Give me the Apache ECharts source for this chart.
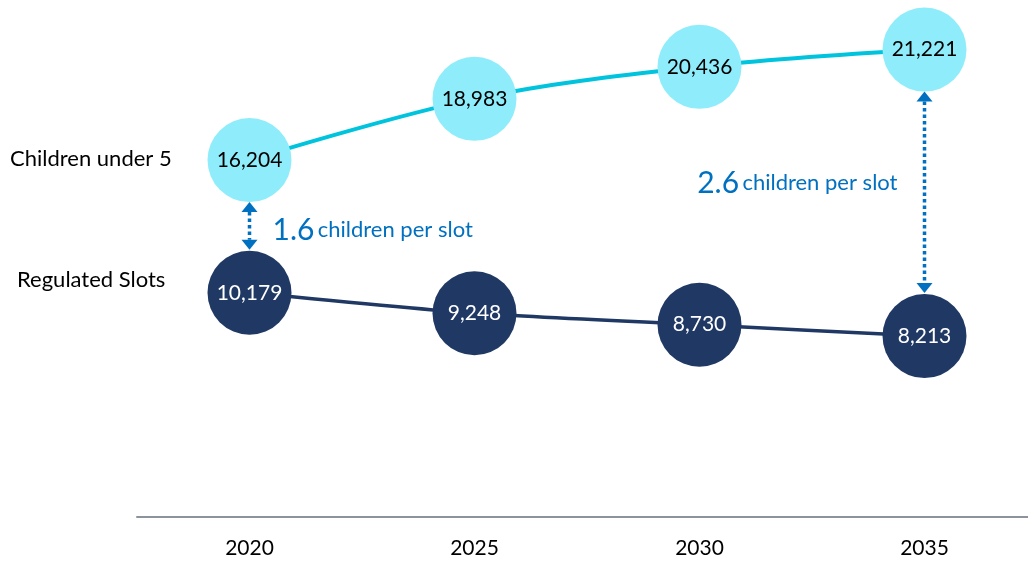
<!DOCTYPE html>
<html>
<head>
<meta charset="utf-8">
<script src="https://cdn.jsdelivr.net/npm/echarts@6/dist/echarts.min.js"></script>
<style>
  html, body { margin: 0; padding: 0; background: #ffffff; }
  #chart { width: 1028px; height: 565px; }
</style>
</head>
<body>
<div id="chart"></div>
<script>
// Child care capacity outlook
const years = ['2020', '2025', '2030', '2035'];
const childrenUnder5 = [16204, 18983, 20436, 21221];
const regulatedSlots = [10179, 9248, 8730, 8213];
// Years that get a "children per slot" callout
const ratioYears = ['2020', '2035'];

const FONT = 'Lato, "Open Sans", sans-serif';
const BUBBLE = 84;
const LIGHT = '#8FEDFB';
const LIGHT_LINE = '#00C3DD';
const DARK = '#203864';
const ACCENT = '#0070C0';

const fmt = v => v.toLocaleString('en-US');
// Points are placed at the year's index on a value axis, one band per year
const pairs = arr => arr.map((v, i) => [i, v]);

const ratioData = ratioYears.map(y => {
  const i = years.indexOf(y);
  return [i, childrenUnder5[i], regulatedSlots[i]];
});

const chart = echarts.init(document.getElementById('chart'), null, { renderer: 'canvas' });

function renderRatio(params, api) {
  const i = api.value(0);
  const top = api.coord([i, api.value(1)]);
  const bot = api.coord([i, api.value(2)]);
  const r = BUBBLE / 2;
  const x = top[0];
  const y1 = top[1] + r;
  const y2 = bot[1] - r - 1;
  const head = 10, half = 8;
  const ratio = (api.value(1) / api.value(2)).toFixed(1);
  const last = i === years.length - 1;
  const midY = (y1 + y2) / 2;
  return {
    type: 'group',
    children: [
      {
        type: 'line',
        shape: { x1: x, y1: y1 + head, x2: x, y2: y2 - head },
        style: { stroke: ACCENT, lineWidth: 3.5, lineDash: [3.5, 3] }
      },
      {
        type: 'polygon',
        shape: { points: [[x, y1], [x - half, y1 + head], [x + half, y1 + head]] },
        style: { fill: ACCENT }
      },
      {
        type: 'polygon',
        shape: { points: [[x, y2], [x - half, y2 - head], [x + half, y2 - head]] },
        style: { fill: ACCENT }
      },
      {
        type: 'text',
        x: last ? x - 27 : x + 23,
        y: last ? midY - 9 : midY + 4,
        style: {
          text: '{n|' + ratio + '} {t|children per slot}',
          align: last ? 'right' : 'left',
          verticalAlign: 'middle',
          rich: {
            n: { fontSize: 30, fontFamily: FONT, fill: ACCENT },
            t: { fontSize: 22, fontFamily: FONT, fill: ACCENT }
          }
        }
      }
    ]
  };
}

chart.setOption({
  animation: false,
  // Each year gets a 225px band; the last band runs past the right edge
  grid: { left: 137, top: 17, right: 0, height: 500 },
  xAxis: {
    type: 'value',
    min: -0.5,
    max: 3.46,
    interval: 0.5,
    axisLine: { show: true, onZero: false, lineStyle: { color: '#8C939D', width: 2 } },
    axisTick: { show: false },
    axisLabel: {
      margin: 21, fontSize: 21, fontFamily: FONT, color: '#000000',
      showMinLabel: true, showMaxLabel: false,
      formatter: v => Number.isInteger(v) && years[v] !== undefined ? years[v] : ''
    },
    splitLine: { show: false }
  },
  yAxis: {
    type: 'value',
    min: 0,
    max: 22700,
    show: false,
    splitLine: { show: false }
  },
  graphic: [
    {
      type: 'text', left: 10, top: 148,
      style: { text: 'Children under 5', fontSize: 22, fontFamily: FONT, fill: '#000000' }
    },
    {
      type: 'text', left: 17, top: 269,
      style: { text: 'Regulated Slots', fontSize: 22, fontFamily: FONT, fill: '#000000' }
    }
  ],
  series: [
    {
      name: 'Children under 5',
      type: 'line',
      data: pairs(childrenUnder5),
      smooth: 0.35,
      symbol: 'circle',
      symbolSize: BUBBLE,
      lineStyle: { color: LIGHT_LINE, width: 4 },
      itemStyle: { color: LIGHT, opacity: 1 },
      label: {
        show: true, position: 'inside', formatter: p => fmt(p.value[1]),
        fontSize: 21, fontFamily: FONT, color: '#000000'
      },
      z: 3
    },
    {
      name: 'Regulated Slots',
      type: 'line',
      data: pairs(regulatedSlots),
      smooth: 0.2,
      symbol: 'circle',
      symbolSize: BUBBLE,
      lineStyle: { color: DARK, width: 3.5 },
      itemStyle: { color: DARK, opacity: 1 },
      label: {
        show: true, position: 'inside', formatter: p => fmt(p.value[1]),
        fontSize: 21, fontFamily: FONT, color: '#ffffff'
      },
      z: 3
    },
    {
      name: 'Children per slot',
      type: 'custom',
      renderItem: renderRatio,
      data: ratioData,
      encode: { x: 0, y: [1, 2] },
      z: 4,
      silent: true
    }
  ]
});
</script>
</body>
</html>
